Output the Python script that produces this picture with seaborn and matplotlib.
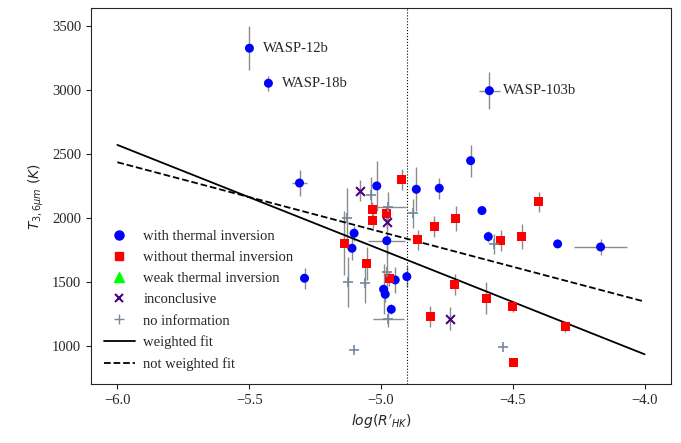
import numpy as np
import pandas as pd
import matplotlib
matplotlib.use('Agg')
import matplotlib.pyplot as plt
from matplotlib.lines import Line2D
import seaborn as sns

# with thermal inversion
inv_x = [-5.499, -5.427, -4.589, -5.309, -5.290, -5.016, -4.866, -4.779, -4.660, -4.617,
         -5.102, -5.110, -4.978, -4.593, -4.330, -4.167, -4.946, -4.902, -4.990, -4.984, -4.961]
inv_t = [3326, 3053, 2995, 2275, 1532, 2252, 2226, 2234, 2449, 2060,
         1883, 1766, 1825, 1857, 1800, 1776, 1519, 1545, 1446, 1407, 1290]
inv_terr = [170, 60, 145, 100, 80, 195, 170, 80, 125, 0,
            60, 90, 120, 40, 0, 60, 100, 80, 195, 60, 40]
inv_xerr = [0, 0, 0.04, 0.03, 0, 0, 0, 0, 0, 0,
            0, 0, 0.07, 0, 0, 0.1, 0, 0, 0, 0, 0]

# without thermal inversion
noinv_x = [-4.921, -4.401, -5.034, -4.980, -5.031, -4.798, -4.717, -5.140, -4.861, -4.546,
           -4.467, -5.054, -4.968, -4.721, -4.600, -4.501, -4.301, -4.813, -4.497]
noinv_t = [2304, 2127, 2070, 2034, 1981, 1935, 1997, 1807, 1831, 1825,
           1857, 1649, 1532, 1485, 1376, 1311, 1155, 1233, 874]
noinv_terr = [80, 80, 60, 60, 60, 80, 100, 250, 80, 80,
              100, 130, 60, 80, 125, 40, 40, 80, 0]

# inconclusive
inc_x = [-5.081, -4.978, -4.737]
inc_t = [2215, 1974, 1215]
inc_terr = [80, 60, 90]

# no information
noinfo_x = [-5.038, -4.975, -5.129, -4.879, -4.573, -5.126, -5.060, -4.978, -4.972, -4.537, -5.102]
noinfo_t = [2182, 2091, 2000, 2039, 1800, 1506, 1493, 1584, 1212, 999, 973]
noinfo_terr = [140, 115, 235, 115, 80, 195, 155, 200, 60, 0, 0]
noinfo_xerr = [0, 0.07, 0, 0, 0, 0, 0, 0, 0.06, 0, 0]

labels = {'WASP-12b': (-5.499, 3326), 'WASP-18b': (-5.427, 3053), 'WASP-103b': (-4.589, 2995)}

fit_x = [-6.0, -4.0]
weighted_fit = [2572, 939]
unweighted_fit = [2437, 1350]
solar_logr = -4.9

sns.set_style('ticks')
plt.rcParams['font.family'] = ['Liberation Serif', 'DejaVu Sans']
plt.rcParams['mathtext.fontset'] = 'dejavusans'

fig = plt.figure(figsize=(6.81, 4.43), dpi=100)
ax = fig.add_axes([0.1336, 0.1325, 0.8517, 0.8495])

ecol = '#8c8c8c'
ax.errorbar(inv_x, inv_t, yerr=inv_terr, xerr=inv_xerr, fmt='none', ecolor=ecol, elinewidth=1, zorder=1)
ax.errorbar(noinv_x, noinv_t, yerr=noinv_terr, fmt='none', ecolor=ecol, elinewidth=1, zorder=1)
ax.errorbar(inc_x, inc_t, yerr=inc_terr, fmt='none', ecolor=ecol, elinewidth=1, zorder=1)
ax.errorbar(noinfo_x, noinfo_t, yerr=noinfo_terr, xerr=noinfo_xerr, fmt='none', ecolor=ecol, elinewidth=1, zorder=1)

sns.scatterplot(x=inv_x, y=inv_t, ax=ax, color='blue', marker='o', s=42, edgecolor='none', zorder=3)
sns.scatterplot(x=noinv_x, y=noinv_t, ax=ax, color='red', marker='s', s=42, edgecolor='none', zorder=3)
sns.scatterplot(x=inc_x, y=inc_t, ax=ax, color='indigo', marker='x', s=40, linewidth=1.5, zorder=3)
sns.scatterplot(x=noinfo_x, y=noinfo_t, ax=ax, color='lightslategray', marker='+', s=50, linewidth=1.2, zorder=3)

sns.lineplot(x=fit_x, y=weighted_fit, ax=ax, color='black', linewidth=1.3)
sns.lineplot(x=fit_x, y=unweighted_fit, ax=ax, color='black', linewidth=1.3, linestyle='--')
ax.axvline(solar_logr, color='black', linestyle=':', linewidth=0.8)

for name, (lx, lt) in labels.items():
    ax.annotate(name, (lx, lt), xytext=(10, 0), textcoords='offset points',
                va='center', ha='left', fontsize=10.5)

ax.set_xlim(-6.1, -3.9)
ax.set_ylim(705, 3640)
ax.set_xticks([-6.0, -5.5, -5.0, -4.5, -4.0])
ax.set_yticks([1000, 1500, 2000, 2500, 3000, 3500])
ax.tick_params(labelsize=10.5)
ax.set_xlabel(r"$log(R'_{HK})$", fontsize=10)
ax.set_ylabel(r"$T_{3,6\mu m}\ (K)$", fontsize=10)

handles = [
    Line2D([], [], color='blue', marker='o', linestyle='none', markersize=6.5),
    Line2D([], [], color='red', marker='s', linestyle='none', markersize=6),
    Line2D([], [], color='lime', marker='^', linestyle='none', markersize=6.5),
    Line2D([], [], color='indigo', marker='x', linestyle='none', markersize=6, markeredgewidth=1.5),
    Line2D([], [], color='lightslategray', marker='+', linestyle='none', markersize=7),
    Line2D([], [], color='black', linewidth=1.3),
    Line2D([], [], color='black', linewidth=1.3, linestyle='--'),
]
names = ['with thermal inversion', 'without thermal inversion', 'weak thermal inversion',
         'inconclusive', 'no information', 'weighted fit', 'not weighted fit']
ax.legend(handles, names, loc='lower left', frameon=False, fontsize=10.5,
          handlelength=2.1, handletextpad=0.6, labelspacing=0.55, borderaxespad=0.5)

fig.savefig('out.png', dpi=100)
